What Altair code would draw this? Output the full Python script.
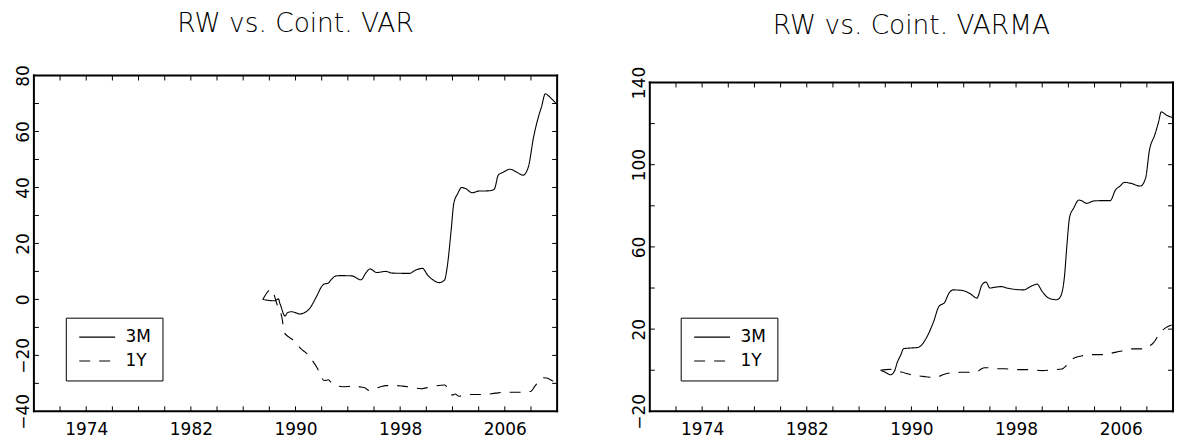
import altair as alt
import pandas as pd

FONT = "DejaVu Sans"

# ---- Left panel: RW vs. Coint. VAR ----
var_years_3m = [1987.5, 1988.4, 1988.7, 1988.8, 1988.9, 1989.05, 1989.2, 1989.4, 1989.7, 1990.1,
                1990.3, 1990.7, 1991.1, 1991.6, 1992.0, 1992.2, 1992.5, 1992.7, 1993.1, 1993.4,
                1994.3, 1995.0, 1995.4, 1995.7, 1996.2, 1996.9, 1997.4, 1998.7, 1999.2, 1999.7,
                2000.1, 2000.5, 2001.0, 2001.4, 2001.6, 2001.9, 2002.1, 2002.4, 2002.7, 2003.0,
                2003.5, 2004.0, 2004.8, 2005.2, 2005.5, 2005.9, 2006.4, 2006.9, 2007.4, 2007.8,
                2008.2, 2008.6, 2008.8, 2009.1, 2009.3, 2009.7, 2010.0]
var_3m = [0.0, -0.5, 0.2, -1.4, -2.6, -4.9, -5.9, -4.7, -4.4, -4.9,
          -5.2, -4.7, -3.1, 1.0, 4.6, 5.5, 5.8, 6.9, 8.4, 8.5,
          8.4, 7.0, 9.6, 10.9, 9.6, 10.0, 9.4, 9.3, 10.5, 11.1,
          8.7, 7.0, 6.0, 7.0, 11.7, 24.8, 34.3, 37.8, 40.0, 39.6,
          38.1, 38.7, 38.8, 39.4, 44.4, 45.5, 46.5, 45.5, 44.4, 47.3,
          58.0, 65.7, 68.7, 73.5, 72.9, 71.1, 69.7]
var_years_1y = [1987.5, 1988.15, 1988.6, 1989.0, 1989.1, 1989.5, 1989.8, 1990.45, 1990.9, 1991.2,
                1991.7, 1992.0, 1992.2, 1992.5, 1992.7, 1993.0, 1993.6, 1994.5, 1995.0, 1995.3,
                1995.6, 1996.0, 1996.5, 1996.9, 1997.7, 1998.2, 1998.7, 1999.6, 2000.0, 2000.5,
                2001.4, 2001.6, 2001.8, 2002.0, 2002.2, 2002.5, 2002.9, 2004.4, 2005.3, 2006.0,
                2007.1, 2008.0, 2008.3, 2008.7, 2008.9, 2009.2, 2009.6, 2009.9]
var_1y = [0.0, 3.6, -2.0, -7.5, -11.5, -13.5, -14.4, -17.8, -19.5, -21.3,
          -24.9, -28.0, -29.0, -28.7, -29.5, -30.5, -31.2, -31.0, -31.3, -31.6,
          -32.5, -32.0, -31.2, -30.8, -30.8, -31.0, -31.3, -31.9, -31.6, -31.1,
          -30.6, -31.5, -33.5, -34.2, -33.8, -34.6, -34.0, -34.0, -33.5, -33.2,
          -33.2, -32.8, -31.0, -28.7, -28.0, -28.1, -29.0, -29.8]

# ---- Right panel: RW vs. Coint. VARMA ----
varma_years_3m = [1987.65, 1988.0, 1988.4, 1988.7, 1988.9, 1989.2, 1989.4, 1989.9, 1990.5, 1990.8,
                  1991.2, 1991.7, 1992.1, 1992.4, 1992.5, 1992.9, 1993.2, 1993.9, 1994.5, 1995.0,
                  1995.4, 1995.7, 1996.0, 1996.4, 1996.9, 1997.3, 1998.6, 1999.1, 1999.6, 2000.0,
                  2000.5, 2001.1, 2001.4, 2001.7, 2001.9, 2002.1, 2002.4, 2002.8, 2003.0, 2003.4,
                  2003.9, 2004.4, 2005.2, 2005.6, 2005.95, 2006.3, 2006.8, 2007.5, 2007.9, 2008.2,
                  2008.6, 2008.9, 2009.1, 2009.5, 2009.95]
varma_3m = [0.0, -1.0, -2.2, -0.5, 3.5, 7.6, 10.5, 10.8, 11.1, 12.4,
            16.4, 23.7, 31.0, 32.3, 32.7, 37.8, 39.1, 38.8, 37.2, 35.1,
            41.6, 42.9, 40.0, 40.4, 40.7, 40.0, 39.1, 40.7, 41.9, 38.3,
            35.1, 34.3, 35.9, 45.6, 61.8, 74.7, 78.8, 82.8, 82.5, 81.2,
            82.3, 82.5, 82.5, 87.7, 89.6, 91.4, 90.9, 89.6, 93.4, 107.1,
            114.4, 120.9, 125.7, 124.1, 123.0]
varma_years_1y = [1987.65, 1988.0, 1988.5, 1989.0, 1989.3, 1990.0, 1990.5, 1990.9, 1991.4, 1991.9,
                  1992.3, 1992.7, 1993.8, 1994.5, 1995.0, 1995.3, 1995.6, 1995.9, 1996.3, 1997.1,
                  1998.1, 1999.1, 2000.0, 2000.9, 2001.5, 2001.8, 2002.1, 2002.4, 2003.1, 2003.9,
                  2004.9, 2005.3, 2005.95, 2006.7, 2007.7, 2008.1, 2008.5, 2009.0, 2009.4, 2009.9]
varma_1y = [0.0, 0.3, 0.5, -0.5, -1.0, -2.2, -2.7, -3.0, -3.4, -3.5,
            -2.5, -1.6, -1.0, -1.0, -0.8, 0.5, 1.2, 1.2, 0.7, 0.7,
            0.3, 0.3, -0.2, 0.3, 0.6, 2.0, 4.5, 5.8, 7.1, 7.6,
            7.6, 8.3, 9.2, 10.4, 10.4, 11.5, 13.3, 18.2, 20.5, 22.0]

series_names = ["3M", "1Y"]
x_domain = [1970, 2010]
x_label_years = [1974, 1982, 1990, 1998, 2006]
x_tick_years = [1972, 1974, 1976, 1978, 1980, 1982, 1984, 1986, 1988, 1990,
                1992, 1994, 1996, 1998, 2000, 2002, 2004, 2006, 2008]

var_y_domain = [-40, 80]
var_y_labels = [-40, -20, 0, 20, 40, 60, 80]
var_y_ticks = [-30, -20, -10, 0, 10, 20, 30, 40, 50, 60, 70]

varma_y_domain = [-20, 140]
varma_y_labels = [-20, 20, 60, 100, 140]
varma_y_ticks = [0, 20, 40, 60, 80, 100, 120]

W = 525
H = 337
TICK = 5


def panel(title, yrs3, v3, yrs1, v1, ydom, ylabels, yticks, top_px, lx, ly):
    df = pd.DataFrame({
        "year": yrs3 + yrs1,
        "value": v3 + v1,
        "series": [series_names[0]] * len(yrs3) + [series_names[1]] * len(yrs1),
    })
    xs = alt.Scale(domain=x_domain, nice=False, zero=False)
    ys = alt.Scale(domain=ydom, nice=False, zero=False, range=[H, top_px])
    x_axis = alt.Axis(values=x_label_years, format="d", title=None, ticks=False,
                      tickSize=0, domain=False, grid=False, labelFontSize=17,
                      labelFont=FONT, labelPadding=10, labelColor="black",
                      labelFlush=False)
    y_axis = alt.Axis(values=ylabels, title=None, ticks=False, tickSize=0,
                      domain=False, grid=False, labelAngle=270, labelAlign="center",
                      labelBaseline="alphabetic", labelPadding=5, labelFontSize=17,
                      labelFont=FONT, labelColor="black", minExtent=20,
                      maxExtent=20, labelFlush=False)

    line = alt.Chart(df).mark_line(color="black", strokeWidth=1.1,
                                   interpolate="monotone").encode(
        x=alt.X("year:Q", scale=xs, axis=x_axis),
        y=alt.Y("value:Q", scale=ys, axis=y_axis),
        strokeDash=alt.StrokeDash(
            "series:N",
            scale=alt.Scale(domain=series_names, range=[[1, 0], [11, 9]]),
            legend=alt.Legend(orient="none", legendX=lx, legendY=ly, title=None,
                              strokeColor="black", padding=11, symbolType="M-1,0H5",
                              symbolSize=144, symbolStrokeWidth=1.1,
                              symbolStrokeColor="black", labelFontSize=17,
                              labelFont=FONT, labelColor="black", labelOffset=32,
                              rowPadding=6)),
        order="year:Q",
    )

    xt = alt.Chart(pd.DataFrame({"year": x_tick_years}))
    yt = alt.Chart(pd.DataFrame({"value": yticks}))
    bottom = xt.mark_rule(color="black").encode(
        x=alt.X("year:Q", scale=xs, axis=x_axis), y=alt.value(H), y2=alt.value(H - TICK))
    top = xt.mark_rule(color="black").encode(
        x=alt.X("year:Q", scale=xs, axis=x_axis), y=alt.value(top_px),
        y2=alt.value(top_px + TICK))
    left = yt.mark_rule(color="black").encode(
        y=alt.Y("value:Q", scale=ys, axis=y_axis), x=alt.value(0), x2=alt.value(TICK))
    right = yt.mark_rule(color="black").encode(
        y=alt.Y("value:Q", scale=ys, axis=y_axis), x=alt.value(W), x2=alt.value(W - TICK))

    frame_df = pd.DataFrame({"side": ["frame"]})
    fr = alt.Chart(frame_df).mark_rule(color="black", strokeWidth=2, strokeCap="square")
    f_top = fr.encode(x=alt.value(0), x2=alt.value(W), y=alt.value(top_px))
    f_bot = fr.encode(x=alt.value(0), x2=alt.value(W), y=alt.value(H))
    f_left = fr.encode(x=alt.value(0), y=alt.value(top_px), y2=alt.value(H))
    f_right = fr.encode(x=alt.value(W), y=alt.value(top_px), y2=alt.value(H))

    return alt.layer(line, bottom, top, left, right, f_top, f_bot, f_left, f_right).properties(
        width=W, height=H,
        title=alt.TitleParams(title, fontSize=26.5, font=FONT, fontWeight=300, color="black",
                              anchor="middle", frame="group", baseline="alphabetic",
                              offset=6),
    )


left_chart = panel("RW vs. Coint. VAR", var_years_3m, var_3m, var_years_1y, var_1y,
                   var_y_domain, var_y_labels, var_y_ticks, 0, 32, 243)
right_chart = panel("RW vs. Coint. VARMA", varma_years_3m, varma_3m, varma_years_1y, varma_1y,
                    varma_y_domain, varma_y_labels, varma_y_ticks, 7, 31, 243)

chart = alt.hconcat(left_chart, right_chart, spacing=70).resolve_scale(
    strokeDash="independent", x="independent", y="independent"
).resolve_legend(strokeDash="independent").properties(
    padding={"left": 6, "top": 2, "right": 3, "bottom": 0}
).configure_view(stroke=None)

chart.save("out.html", embed_options={"renderer": "svg", "actions": False})
